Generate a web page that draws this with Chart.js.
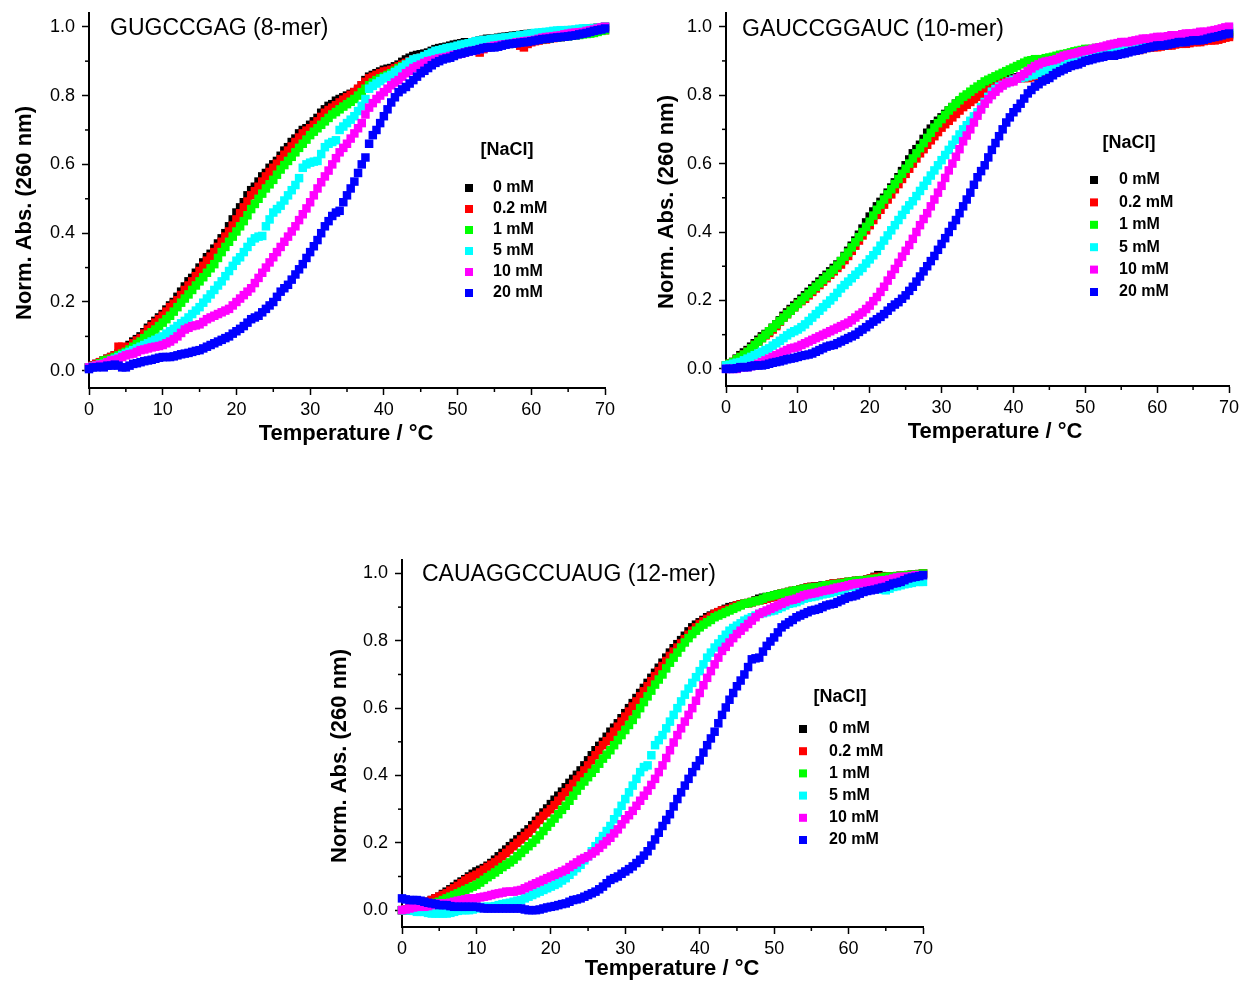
<!DOCTYPE html>
<html lang="en">
<head>
  <meta charset="utf-8">
  <title>Melting curves vs NaCl</title>
  <script src="https://cdn.jsdelivr.net/npm/chart.js@4"></script>
  <style>
    body { margin: 0; background: #fff; }
    #page { position: relative; width: 1246px; height: 983px; }
    .panel { position: absolute; }
  </style>
</head>
<body>
  <div id="page">
    <canvas id="c8" class="panel" width="620" height="450" style="left:0;top:0"></canvas>
    <canvas id="c10" class="panel" width="616" height="450" style="left:630px;top:0"></canvas>
    <canvas id="c12" class="panel" width="630" height="433" style="left:310px;top:550px"></canvas>
  </div>
  <script>
    // temperature axis (deg C), one reading every half degree
    const temps = [
      0,0.5,1,1.5,2,2.5,3,3.5,4,4.5,5,5.5,6,6.5,7,7.5,8,8.5,9,9.5,
      10,10.5,11,11.5,12,12.5,13,13.5,14,14.5,15,15.5,16,16.5,17,17.5,18,18.5,19,19.5,
      20,20.5,21,21.5,22,22.5,23,23.5,24,24.5,25,25.5,26,26.5,27,27.5,28,28.5,29,29.5,
      30,30.5,31,31.5,32,32.5,33,33.5,34,34.5,35,35.5,36,36.5,37,37.5,38,38.5,39,39.5,
      40,40.5,41,41.5,42,42.5,43,43.5,44,44.5,45,45.5,46,46.5,47,47.5,48,48.5,49,49.5,
      50,50.5,51,51.5,52,52.5,53,53.5,54,54.5,55,55.5,56,56.5,57,57.5,58,58.5,59,59.5,
      60,60.5,61,61.5,62,62.5,63,63.5,64,64.5,65,65.5,66,66.5,67,67.5,68,68.5,69,69.5,
      70];

    const saltLabels = ['0 mM', '0.2 mM', '1 mM', '5 mM', '10 mM', '20 mM'];
    const saltColors = ['#000000', '#ff0000', '#00ff00', '#00ffff', '#ff00ff', '#0000ff'];

    const xTicks = [0, 10, 20, 30, 40, 50, 60, 70];
    const xMinor = [5, 15, 25, 35, 45, 55, 65];
    const yTicks = [0, 0.2, 0.4, 0.6, 0.8, 1.0];
    const yMinor = [0.1, 0.3, 0.5, 0.7, 0.9];

    // GUGCCGAG (8-mer)
    const m8_0 = [
      0.01,0.015,0.02,0.025,0.03,0.035,0.04,0.045,0.05,0.058,0.065,0.075,0.085,0.092,0.10,0.112,0.125,0.135,0.145,0.155,
      0.165,0.178,0.19,0.20,0.215,0.23,0.245,0.26,0.27,0.285,0.30,0.315,0.33,0.34,0.355,0.37,0.385,0.40,0.42,0.44,
      0.46,0.475,0.49,0.51,0.525,0.535,0.55,0.565,0.575,0.59,0.60,0.61,0.625,0.64,0.65,0.665,0.675,0.69,0.70,0.705,
      0.715,0.725,0.735,0.75,0.76,0.77,0.775,0.785,0.79,0.795,0.80,0.805,0.81,0.815,0.83,0.845,0.855,0.86,0.865,0.87,
      0.875,0.878,0.88,0.885,0.89,0.898,0.905,0.91,0.915,0.918,0.92,0.922,0.925,0.93,0.935,0.938,0.94,0.942,0.945,0.948,
      0.95,0.952,0.955,0.955,0.955,0.958,0.96,0.962,0.965,0.965,0.965,0.968,0.97,0.971,0.972,0.974,0.975,0.976,0.978,0.979,
      0.98,0.98,0.98,0.982,0.983,0.984,0.985,0.986,0.987,0.988,0.99,0.99,0.99,0.992,0.993,0.994,0.995,0.996,0.997,0.998,
      1.0];
    const m8_02 = [
      0.01,0.015,0.02,0.025,0.03,0.035,0.04,0.045,0.07,0.07,0.062,0.07,0.08,0.088,0.095,0.108,0.12,0.13,0.14,0.15,
      0.16,0.172,0.185,0.195,0.205,0.22,0.235,0.248,0.26,0.275,0.29,0.305,0.32,0.332,0.345,0.36,0.375,0.39,0.405,0.422,
      0.44,0.458,0.475,0.492,0.51,0.522,0.535,0.55,0.565,0.578,0.59,0.602,0.615,0.628,0.64,0.652,0.665,0.678,0.69,0.698,
      0.705,0.715,0.725,0.738,0.75,0.758,0.765,0.772,0.78,0.788,0.795,0.802,0.81,0.82,0.83,0.84,0.85,0.855,0.86,0.865,
      0.87,0.872,0.875,0.88,0.885,0.89,0.895,0.90,0.905,0.908,0.91,0.912,0.915,0.918,0.92,0.922,0.925,0.928,0.93,0.932,
      0.935,0.938,0.94,0.94,0.94,0.935,0.925,0.935,0.94,0.942,0.945,0.948,0.95,0.951,0.952,0.954,0.955,0.945,0.94,0.95,
      0.955,0.958,0.96,0.962,0.963,0.965,0.967,0.968,0.97,0.978,0.985,0.982,0.98,0.981,0.982,0.984,0.985,0.988,0.99,0.99,
      0.99];
    const m8_1 = [
      0.01,0.012,0.015,0.022,0.03,0.032,0.035,0.04,0.045,0.05,0.055,0.062,0.07,0.078,0.085,0.095,0.105,0.112,0.12,0.13,
      0.14,0.15,0.16,0.172,0.185,0.198,0.21,0.222,0.235,0.248,0.26,0.272,0.285,0.298,0.31,0.328,0.345,0.36,0.375,0.39,
      0.405,0.42,0.435,0.452,0.47,0.485,0.50,0.515,0.53,0.542,0.555,0.57,0.585,0.598,0.61,0.622,0.635,0.648,0.66,0.672,
      0.685,0.695,0.705,0.715,0.725,0.735,0.745,0.752,0.76,0.768,0.775,0.782,0.79,0.80,0.81,0.82,0.83,0.838,0.845,0.85,
      0.855,0.86,0.865,0.872,0.88,0.885,0.89,0.892,0.895,0.90,0.905,0.908,0.91,0.912,0.915,0.918,0.92,0.922,0.925,0.928,
      0.93,0.932,0.935,0.938,0.94,0.94,0.94,0.942,0.945,0.945,0.945,0.948,0.95,0.95,0.95,0.952,0.955,0.956,0.958,0.959,
      0.96,0.962,0.963,0.964,0.965,0.966,0.968,0.969,0.97,0.971,0.972,0.974,0.975,0.976,0.978,0.979,0.98,0.982,0.985,0.988,
      0.99];
    const m8_5 = [
      0.01,0.012,0.015,0.018,0.02,0.025,0.03,0.035,0.04,0.045,0.05,0.055,0.06,0.065,0.07,0.075,0.08,0.085,0.09,0.095,
      0.10,0.108,0.115,0.122,0.13,0.138,0.145,0.155,0.165,0.175,0.185,0.198,0.21,0.222,0.235,0.248,0.26,0.275,0.29,0.305,
      0.32,0.33,0.345,0.36,0.375,0.385,0.39,0.392,0.42,0.44,0.46,0.47,0.48,0.495,0.51,0.525,0.54,0.56,0.59,0.60,
      0.605,0.608,0.61,0.63,0.65,0.66,0.665,0.67,0.70,0.71,0.72,0.73,0.74,0.755,0.77,0.79,0.82,0.828,0.835,0.842,
      0.85,0.855,0.86,0.868,0.875,0.882,0.89,0.898,0.905,0.908,0.91,0.915,0.92,0.925,0.93,0.932,0.935,0.938,0.94,0.942,
      0.945,0.948,0.95,0.952,0.955,0.958,0.96,0.961,0.962,0.964,0.965,0.966,0.968,0.969,0.97,0.972,0.973,0.975,0.976,0.978,
      0.98,0.982,0.983,0.984,0.985,0.986,0.988,0.989,0.99,0.99,0.99,0.991,0.992,0.994,0.995,0.995,0.995,0.996,0.997,0.998,
      1.0];
    const m8_10 = [
      0.01,0.012,0.015,0.018,0.02,0.025,0.03,0.032,0.035,0.04,0.045,0.048,0.05,0.055,0.06,0.062,0.065,0.068,0.07,0.072,
      0.075,0.08,0.085,0.092,0.10,0.11,0.12,0.125,0.13,0.132,0.135,0.142,0.15,0.155,0.16,0.165,0.17,0.175,0.18,0.19,
      0.20,0.21,0.22,0.23,0.24,0.255,0.27,0.285,0.30,0.315,0.33,0.345,0.36,0.375,0.39,0.405,0.42,0.438,0.455,0.472,
      0.49,0.51,0.53,0.548,0.565,0.582,0.60,0.618,0.635,0.648,0.66,0.675,0.69,0.705,0.72,0.745,0.765,0.778,0.79,0.80,
      0.81,0.82,0.83,0.838,0.845,0.855,0.865,0.872,0.88,0.885,0.89,0.895,0.90,0.902,0.905,0.908,0.91,0.912,0.915,0.918,
      0.92,0.922,0.925,0.928,0.93,0.932,0.935,0.938,0.94,0.942,0.945,0.946,0.948,0.949,0.95,0.952,0.955,0.956,0.958,0.959,
      0.96,0.962,0.965,0.968,0.97,0.971,0.972,0.974,0.975,0.978,0.98,0.982,0.983,0.984,0.985,0.988,0.99,0.992,0.995,0.998,
      1.0];
    const m8_20 = [
      0.005,0.01,0.01,0.012,0.01,0.015,0.015,0.018,0.015,0.01,0.01,0.015,0.02,0.022,0.025,0.028,0.03,0.032,0.035,0.038,
      0.04,0.04,0.04,0.042,0.045,0.048,0.05,0.052,0.055,0.058,0.06,0.065,0.07,0.075,0.08,0.085,0.09,0.095,0.10,0.108,
      0.115,0.122,0.13,0.14,0.15,0.155,0.16,0.17,0.18,0.19,0.20,0.215,0.23,0.24,0.25,0.265,0.28,0.295,0.31,0.328,
      0.345,0.362,0.38,0.40,0.42,0.435,0.45,0.46,0.465,0.49,0.51,0.53,0.55,0.575,0.60,0.62,0.66,0.685,0.70,0.72,
      0.74,0.76,0.78,0.795,0.81,0.818,0.825,0.835,0.845,0.855,0.865,0.872,0.88,0.888,0.895,0.90,0.905,0.908,0.91,0.915,
      0.92,0.922,0.925,0.928,0.93,0.932,0.935,0.938,0.94,0.94,0.94,0.942,0.945,0.948,0.95,0.951,0.952,0.954,0.955,0.956,
      0.958,0.96,0.962,0.964,0.965,0.966,0.968,0.969,0.97,0.971,0.972,0.974,0.975,0.978,0.98,0.982,0.985,0.988,0.99,0.992,
      0.995];

    // GAUCCGGAUC (10-mer)
    const m10_0 = [
      0.01,0.015,0.02,0.03,0.04,0.048,0.055,0.065,0.075,0.085,0.095,0.102,0.11,0.12,0.13,0.142,0.155,0.165,0.175,0.185,
      0.195,0.205,0.215,0.225,0.235,0.245,0.255,0.265,0.275,0.285,0.295,0.305,0.315,0.33,0.345,0.36,0.375,0.392,0.41,0.428,
      0.445,0.46,0.475,0.488,0.50,0.515,0.53,0.545,0.56,0.578,0.595,0.612,0.63,0.642,0.655,0.672,0.69,0.702,0.715,0.725,
      0.735,0.745,0.755,0.765,0.775,0.782,0.79,0.795,0.80,0.805,0.81,0.815,0.82,0.825,0.83,0.835,0.84,0.842,0.845,0.848,
      0.85,0.852,0.855,0.858,0.86,0.865,0.87,0.872,0.875,0.88,0.885,0.888,0.89,0.892,0.895,0.898,0.90,0.902,0.905,0.908,
      0.91,0.912,0.915,0.915,0.915,0.918,0.92,0.922,0.925,0.925,0.925,0.928,0.93,0.932,0.935,0.935,0.935,0.938,0.94,0.942,
      0.945,0.945,0.945,0.948,0.95,0.952,0.955,0.955,0.955,0.958,0.96,0.96,0.96,0.962,0.965,0.965,0.965,0.968,0.97,0.972,
      0.975];
    const m10_02 = [
      0.01,0.015,0.02,0.028,0.035,0.042,0.05,0.06,0.07,0.08,0.09,0.098,0.105,0.115,0.125,0.138,0.15,0.16,0.17,0.18,
      0.19,0.198,0.205,0.215,0.225,0.235,0.245,0.255,0.265,0.275,0.285,0.295,0.305,0.318,0.33,0.345,0.36,0.375,0.39,0.405,
      0.42,0.435,0.45,0.465,0.48,0.495,0.51,0.525,0.54,0.555,0.57,0.585,0.60,0.615,0.63,0.642,0.655,0.668,0.68,0.692,
      0.705,0.715,0.725,0.735,0.745,0.755,0.765,0.772,0.78,0.788,0.795,0.802,0.81,0.815,0.82,0.825,0.83,0.835,0.84,0.842,
      0.845,0.848,0.85,0.85,0.85,0.852,0.855,0.858,0.86,0.865,0.87,0.875,0.88,0.885,0.89,0.892,0.895,0.898,0.90,0.902,
      0.905,0.908,0.91,0.912,0.915,0.915,0.915,0.918,0.92,0.922,0.925,0.928,0.93,0.93,0.93,0.932,0.935,0.938,0.94,0.94,
      0.94,0.942,0.945,0.945,0.945,0.948,0.95,0.95,0.95,0.952,0.955,0.955,0.955,0.958,0.96,0.96,0.96,0.962,0.965,0.968,
      0.97];
    const m10_1 = [
      0.01,0.015,0.02,0.028,0.035,0.042,0.05,0.06,0.07,0.08,0.09,0.10,0.11,0.12,0.13,0.14,0.15,0.16,0.17,0.18,
      0.19,0.20,0.21,0.22,0.23,0.24,0.25,0.26,0.27,0.28,0.29,0.302,0.315,0.328,0.34,0.355,0.37,0.385,0.40,0.415,
      0.43,0.448,0.465,0.48,0.495,0.51,0.525,0.54,0.555,0.57,0.585,0.60,0.615,0.63,0.645,0.66,0.675,0.69,0.705,0.718,
      0.73,0.742,0.755,0.765,0.775,0.785,0.795,0.802,0.81,0.818,0.825,0.832,0.84,0.845,0.85,0.855,0.86,0.865,0.87,0.875,
      0.88,0.885,0.89,0.895,0.90,0.902,0.905,0.905,0.905,0.908,0.91,0.912,0.915,0.918,0.92,0.922,0.925,0.928,0.93,0.932,
      0.935,0.935,0.935,0.938,0.94,0.94,0.94,0.942,0.945,0.945,0.945,0.948,0.95,0.95,0.95,0.952,0.955,0.955,0.955,0.958,
      0.96,0.96,0.96,0.962,0.965,0.965,0.965,0.968,0.97,0.97,0.97,0.972,0.975,0.975,0.975,0.978,0.98,0.98,0.98,0.982,
      0.985];
    const m10_5 = [
      0.01,0.012,0.015,0.018,0.02,0.025,0.03,0.035,0.04,0.045,0.05,0.055,0.06,0.068,0.075,0.082,0.09,0.098,0.105,0.11,
      0.115,0.122,0.13,0.14,0.15,0.16,0.17,0.18,0.19,0.20,0.21,0.222,0.235,0.245,0.255,0.265,0.275,0.285,0.295,0.308,
      0.32,0.332,0.345,0.36,0.375,0.39,0.405,0.42,0.435,0.45,0.465,0.478,0.49,0.505,0.52,0.535,0.55,0.565,0.58,0.595,
      0.61,0.625,0.64,0.655,0.67,0.685,0.70,0.712,0.725,0.738,0.75,0.765,0.78,0.795,0.81,0.818,0.825,0.83,0.835,0.84,
      0.845,0.848,0.85,0.852,0.855,0.858,0.86,0.865,0.87,0.872,0.875,0.88,0.885,0.888,0.89,0.892,0.895,0.898,0.90,0.902,
      0.905,0.908,0.91,0.912,0.915,0.918,0.92,0.922,0.925,0.928,0.93,0.932,0.935,0.935,0.935,0.938,0.94,0.942,0.945,0.945,
      0.945,0.948,0.95,0.952,0.955,0.955,0.955,0.958,0.96,0.962,0.965,0.968,0.97,0.972,0.975,0.978,0.98,0.985,0.99,0.992,
      0.995];
    const m10_10 = [
      0.0,0.0,0.0,0.0,0.005,0.005,0.005,0.008,0.01,0.015,0.02,0.025,0.03,0.035,0.04,0.045,0.05,0.055,0.06,0.062,
      0.065,0.07,0.075,0.08,0.085,0.09,0.095,0.10,0.105,0.11,0.115,0.12,0.125,0.13,0.135,0.142,0.15,0.158,0.165,0.175,
      0.185,0.198,0.21,0.225,0.24,0.258,0.275,0.292,0.31,0.328,0.345,0.362,0.38,0.40,0.42,0.438,0.455,0.475,0.495,0.515,
      0.535,0.558,0.58,0.60,0.62,0.642,0.665,0.682,0.70,0.72,0.74,0.758,0.775,0.788,0.80,0.81,0.82,0.828,0.835,0.838,
      0.84,0.848,0.855,0.862,0.87,0.878,0.885,0.89,0.895,0.898,0.90,0.902,0.905,0.91,0.915,0.918,0.92,0.922,0.925,0.928,
      0.93,0.932,0.935,0.938,0.94,0.942,0.945,0.948,0.95,0.952,0.955,0.955,0.955,0.958,0.96,0.962,0.965,0.965,0.965,0.968,
      0.97,0.97,0.97,0.972,0.975,0.975,0.975,0.978,0.98,0.98,0.98,0.982,0.985,0.985,0.985,0.988,0.99,0.992,0.995,0.998,
      1.0];
    const m10_20 = [
      0.0,0.0,0.0,0.002,0.005,0.005,0.005,0.008,0.01,0.01,0.01,0.012,0.015,0.018,0.02,0.022,0.025,0.028,0.03,0.032,
      0.035,0.038,0.04,0.042,0.045,0.05,0.055,0.06,0.065,0.068,0.07,0.075,0.08,0.085,0.09,0.095,0.10,0.108,0.115,0.122,
      0.13,0.138,0.145,0.152,0.16,0.17,0.18,0.188,0.195,0.205,0.215,0.228,0.24,0.255,0.27,0.285,0.30,0.315,0.33,0.348,
      0.365,0.382,0.40,0.418,0.435,0.455,0.475,0.495,0.515,0.538,0.56,0.578,0.595,0.618,0.64,0.66,0.68,0.70,0.72,0.735,
      0.75,0.762,0.775,0.79,0.805,0.815,0.825,0.832,0.84,0.845,0.85,0.858,0.865,0.87,0.875,0.88,0.885,0.888,0.89,0.895,
      0.90,0.902,0.905,0.908,0.91,0.912,0.915,0.915,0.915,0.918,0.92,0.922,0.925,0.928,0.93,0.932,0.935,0.938,0.94,0.942,
      0.945,0.945,0.945,0.948,0.95,0.952,0.955,0.955,0.955,0.958,0.96,0.96,0.96,0.962,0.965,0.968,0.97,0.972,0.975,0.978,
      0.98];

    // CAUAGGCCUAUG (12-mer)
    const m12_0 = [
      0.0,0.002,0.005,0.008,0.01,0.015,0.02,0.025,0.03,0.035,0.04,0.048,0.055,0.062,0.07,0.078,0.085,0.092,0.10,0.108,
      0.115,0.12,0.125,0.132,0.14,0.15,0.16,0.17,0.18,0.19,0.20,0.21,0.22,0.23,0.24,0.252,0.265,0.278,0.29,0.302,
      0.315,0.328,0.34,0.352,0.365,0.378,0.39,0.402,0.415,0.43,0.445,0.46,0.475,0.488,0.50,0.515,0.53,0.542,0.555,0.57,
      0.585,0.60,0.615,0.63,0.645,0.66,0.675,0.69,0.705,0.72,0.735,0.75,0.765,0.778,0.79,0.802,0.815,0.828,0.84,0.848,
      0.855,0.862,0.87,0.875,0.88,0.885,0.89,0.895,0.90,0.902,0.905,0.908,0.91,0.912,0.915,0.92,0.925,0.928,0.93,0.932,
      0.935,0.938,0.94,0.942,0.945,0.948,0.95,0.952,0.955,0.958,0.96,0.961,0.962,0.964,0.965,0.968,0.97,0.971,0.972,0.974,
      0.975,0.976,0.978,0.979,0.98,0.982,0.985,0.99,0.995,0.992,0.99,0.99,0.99,0.992,0.993,0.994,0.995,0.996,0.997,0.998,
      1.0];
    const m12_02 = [
      0.0,0.002,0.005,0.008,0.01,0.015,0.02,0.025,0.03,0.035,0.04,0.045,0.05,0.058,0.065,0.072,0.08,0.088,0.095,0.10,
      0.105,0.112,0.12,0.128,0.135,0.142,0.15,0.16,0.17,0.18,0.19,0.20,0.21,0.22,0.23,0.242,0.255,0.268,0.28,0.29,
      0.30,0.312,0.325,0.338,0.35,0.362,0.375,0.388,0.40,0.415,0.43,0.445,0.46,0.475,0.49,0.502,0.515,0.53,0.545,0.56,
      0.575,0.59,0.605,0.62,0.635,0.65,0.665,0.68,0.695,0.71,0.725,0.74,0.755,0.768,0.78,0.792,0.805,0.818,0.83,0.84,
      0.85,0.858,0.865,0.872,0.88,0.885,0.89,0.892,0.895,0.90,0.905,0.908,0.91,0.912,0.915,0.918,0.92,0.922,0.925,0.928,
      0.93,0.935,0.94,0.942,0.945,0.948,0.95,0.952,0.955,0.958,0.96,0.96,0.96,0.962,0.965,0.968,0.97,0.971,0.972,0.974,
      0.975,0.976,0.978,0.979,0.98,0.982,0.985,0.988,0.99,0.99,0.99,0.99,0.99,0.992,0.993,0.994,0.995,0.996,0.997,0.998,
      1.0];
    const m12_1 = [
      0.0,0.0,0.0,0.002,0.005,0.008,0.01,0.015,0.02,0.022,0.025,0.03,0.035,0.04,0.045,0.05,0.055,0.06,0.065,0.07,
      0.075,0.082,0.09,0.098,0.105,0.112,0.12,0.128,0.135,0.142,0.15,0.16,0.17,0.18,0.19,0.20,0.21,0.222,0.235,0.248,
      0.26,0.272,0.285,0.298,0.31,0.325,0.34,0.355,0.37,0.382,0.395,0.408,0.42,0.435,0.45,0.462,0.475,0.49,0.505,0.52,
      0.535,0.55,0.565,0.582,0.60,0.618,0.635,0.652,0.67,0.685,0.70,0.718,0.735,0.75,0.765,0.78,0.795,0.808,0.82,0.83,
      0.84,0.848,0.855,0.862,0.87,0.875,0.88,0.885,0.89,0.895,0.90,0.905,0.91,0.912,0.915,0.918,0.92,0.925,0.93,0.932,
      0.935,0.938,0.94,0.942,0.945,0.948,0.95,0.952,0.955,0.956,0.958,0.959,0.96,0.962,0.965,0.966,0.968,0.969,0.97,0.972,
      0.975,0.976,0.978,0.979,0.98,0.981,0.983,0.984,0.985,0.988,0.99,0.99,0.99,0.992,0.993,0.994,0.995,0.996,0.997,0.998,
      1.0];
    const m12_5 = [
      0.0,0.0,0.0,-0.002,-0.005,-0.005,-0.005,-0.008,-0.01,-0.01,-0.01,-0.01,-0.01,-0.008,-0.005,-0.002,0.0,0.0,0.0,0.002,
      0.005,0.008,0.01,0.01,0.01,0.012,0.015,0.018,0.02,0.022,0.025,0.028,0.03,0.035,0.04,0.045,0.05,0.055,0.06,0.065,
      0.07,0.075,0.08,0.088,0.095,0.105,0.115,0.125,0.135,0.148,0.16,0.175,0.19,0.205,0.22,0.235,0.25,0.27,0.29,0.31,
      0.33,0.35,0.37,0.39,0.41,0.425,0.43,0.46,0.49,0.505,0.52,0.54,0.56,0.58,0.60,0.62,0.64,0.658,0.675,0.692,
      0.71,0.73,0.75,0.765,0.78,0.792,0.805,0.818,0.83,0.838,0.845,0.852,0.86,0.865,0.87,0.875,0.88,0.882,0.885,0.888,
      0.89,0.895,0.90,0.905,0.91,0.912,0.915,0.92,0.925,0.928,0.93,0.932,0.935,0.938,0.94,0.942,0.945,0.948,0.95,0.955,
      0.96,0.96,0.96,0.962,0.965,0.962,0.96,0.958,0.955,0.952,0.95,0.955,0.96,0.962,0.965,0.968,0.97,0.972,0.975,0.975,
      0.975];
    const m12_10 = [
      0.0,0.002,0.005,0.008,0.01,0.01,0.01,0.012,0.015,0.018,0.02,0.02,0.02,0.022,0.025,0.028,0.03,0.032,0.035,0.035,
      0.035,0.038,0.04,0.042,0.045,0.048,0.05,0.052,0.055,0.055,0.055,0.058,0.06,0.065,0.07,0.075,0.08,0.085,0.09,0.095,
      0.10,0.105,0.11,0.115,0.12,0.128,0.135,0.142,0.15,0.155,0.16,0.168,0.175,0.185,0.195,0.205,0.215,0.228,0.24,0.255,
      0.27,0.282,0.295,0.31,0.325,0.34,0.355,0.372,0.39,0.41,0.43,0.452,0.475,0.498,0.52,0.54,0.56,0.58,0.60,0.622,
      0.645,0.668,0.69,0.71,0.73,0.75,0.77,0.782,0.795,0.808,0.82,0.83,0.84,0.85,0.86,0.87,0.88,0.885,0.89,0.895,
      0.90,0.905,0.91,0.915,0.92,0.922,0.925,0.93,0.935,0.938,0.94,0.942,0.945,0.948,0.95,0.952,0.955,0.958,0.96,0.962,
      0.965,0.968,0.97,0.971,0.972,0.974,0.975,0.976,0.978,0.979,0.98,0.982,0.985,0.988,0.99,0.99,0.99,0.992,0.995,0.995,
      0.995];
    const m12_20 = [
      0.035,0.032,0.03,0.03,0.03,0.028,0.025,0.022,0.02,0.018,0.015,0.015,0.015,0.012,0.01,0.01,0.01,0.01,0.01,0.01,
      0.01,0.008,0.005,0.005,0.005,0.005,0.005,0.005,0.005,0.005,0.005,0.005,0.005,0.002,0.0,0.0,0.0,0.002,0.005,0.008,
      0.01,0.012,0.015,0.018,0.02,0.025,0.03,0.032,0.035,0.04,0.045,0.05,0.055,0.062,0.07,0.08,0.09,0.095,0.10,0.108,
      0.115,0.122,0.13,0.14,0.15,0.162,0.175,0.192,0.21,0.23,0.25,0.268,0.285,0.308,0.33,0.35,0.37,0.39,0.41,0.428,
      0.445,0.468,0.49,0.51,0.53,0.555,0.58,0.602,0.625,0.645,0.665,0.682,0.70,0.722,0.745,0.748,0.75,0.768,0.785,0.798,
      0.81,0.825,0.84,0.848,0.855,0.862,0.87,0.875,0.88,0.885,0.89,0.892,0.895,0.90,0.905,0.908,0.91,0.915,0.92,0.925,
      0.93,0.932,0.935,0.94,0.945,0.948,0.95,0.952,0.955,0.958,0.96,0.965,0.97,0.972,0.975,0.98,0.985,0.988,0.99,0.992,
      0.995];

    const FONT = 'Arial, "Liberation Sans", sans-serif';

    // minor ticks, panel caption, axis titles and the [NaCl] legend box
    const panelText = {
      id: 'panelText',
      afterDraw(chart, args, o) {
        const ctx = chart.ctx;
        const xs = chart.scales.x, ys = chart.scales.y;
        ctx.save();
        ctx.strokeStyle = '#000';
        ctx.lineWidth = 1.5;
        xMinor.forEach(v => {
          const px = xs.getPixelForValue(v);
          ctx.beginPath(); ctx.moveTo(px, xs.top); ctx.lineTo(px, xs.top + 4); ctx.stroke();
        });
        yMinor.forEach(v => {
          const py = ys.getPixelForValue(v);
          ctx.beginPath(); ctx.moveTo(ys.right, py); ctx.lineTo(ys.right - 4, py); ctx.stroke();
        });

        ctx.translate(-o.left, -o.top);   // below: page coordinates
        ctx.fillStyle = '#000';
        ctx.textBaseline = 'middle';

        ctx.font = '23px ' + FONT;
        ctx.textAlign = 'left';
        ctx.fillText(o.title, o.titleAt[0], o.titleAt[1]);

        ctx.font = 'bold 22px ' + FONT;
        ctx.textAlign = 'center';
        ctx.fillText('Temperature / \u00B0C', o.xTitleAt[0], o.xTitleAt[1]);

        ctx.save();
        ctx.translate(o.yTitleAt[0], o.yTitleAt[1]);
        ctx.rotate(-Math.PI / 2);
        ctx.fillText('Norm. Abs. (260 nm)', 0, 0);
        ctx.restore();

        ctx.font = 'bold 18px ' + FONT;
        ctx.fillText('[NaCl]', o.legendHead[0], o.legendHead[1]);
        ctx.font = 'bold 16px ' + FONT;
        ctx.textAlign = 'left';
        chart.data.datasets.forEach((ds, i) => {
          const y = o.rowY + i * o.rowStep;
          ctx.fillStyle = ds.backgroundColor;
          ctx.fillRect(o.markX - 4, y - 4, 8, 8);
          ctx.fillStyle = '#000';
          ctx.fillText(ds.label, o.textX, y);
        });
        ctx.restore();
      }
    };

    function makePanel(id, series, look) {
      const datasets = series.map((vals, i) => ({
        label: saltLabels[i],
        data: temps.map((t, j) => ({ x: t, y: vals[j] })),
        backgroundColor: saltColors[i],
        borderColor: saltColors[i],
        pointStyle: 'rect',
        pointRadius: 6,
        pointBorderWidth: 0,
        showLine: false,
        clip: false,
        order: series.length - i
      }));
      return new Chart(document.getElementById(id), {
        type: 'scatter',
        data: { datasets: datasets },
        options: {
          responsive: false,
          devicePixelRatio: 1,
          animation: false,
          layout: { padding: { left: 0, top: look.padTop, right: look.padRight, bottom: 0 } },
          plugins: {
            legend: { display: false },
            tooltip: { enabled: false },
            panelText: look
          },
          scales: {
            x: {
              type: 'linear', min: 0, max: 70,
              afterBuildTicks: s => { s.ticks = xTicks.map(v => ({ value: v })); },
              afterFit: s => { s.height = look.xHeight; s.paddingLeft = 0; s.paddingRight = 0; },
              border: { display: true, color: '#000', width: 2 },
              grid: { display: true, drawOnChartArea: false, tickLength: 7, tickColor: '#000', tickWidth: 1.5 },
              ticks: { color: '#000', font: { family: FONT, size: 18 }, padding: 4, maxRotation: 0,
                callback: v => String(v) }
            },
            y: {
              type: 'linear', min: -0.05, max: 1.04,
              afterBuildTicks: s => { s.ticks = yTicks.map(v => ({ value: v })); },
              afterFit: s => { s.width = look.yWidth; s.paddingTop = 0; s.paddingBottom = 0; },
              border: { display: true, color: '#000', width: 2 },
              grid: { display: true, drawOnChartArea: false, tickLength: 7, tickColor: '#000', tickWidth: 1.5 },
              ticks: { color: '#000', font: { family: FONT, size: 18 }, padding: 7,
                callback: v => Number(v).toFixed(1) }
            }
          }
        },
        plugins: [panelText]
      });
    }

    makePanel('c8', [m8_0, m8_02, m8_1, m8_5, m8_10, m8_20], {
      left: 0, top: 0, padTop: 13, padRight: 15, yWidth: 89, xHeight: 62,
      title: 'GUGCCGAG (8-mer)', titleAt: [110, 29],
      xTitleAt: [346, 434], yTitleAt: [25, 213],
      legendHead: [507, 150], markX: 469, textX: 493, rowY: 188, rowStep: 21
    });

    makePanel('c10', [m10_0, m10_02, m10_1, m10_5, m10_10, m10_20], {
      left: 630, top: 0, padTop: 13, padRight: 17, yWidth: 96, xHeight: 64,
      title: 'GAUCCGGAUC (10-mer)', titleAt: [742, 30],
      xTitleAt: [995, 432], yTitleAt: [667, 202],
      legendHead: [1129, 143], markX: 1094, textX: 1119, rowY: 180, rowStep: 22.4
    });

    makePanel('c12', [m12_0, m12_02, m12_1, m12_5, m12_10, m12_20], {
      left: 310, top: 550, padTop: 10, padRight: 17, yWidth: 92, xHeight: 56,
      title: 'CAUAGGCCUAUG (12-mer)', titleAt: [422, 575],
      xTitleAt: [672, 969], yTitleAt: [340, 756],
      legendHead: [840, 697], markX: 803, textX: 829, rowY: 729, rowStep: 22.2
    });
  </script>
</body>
</html>
